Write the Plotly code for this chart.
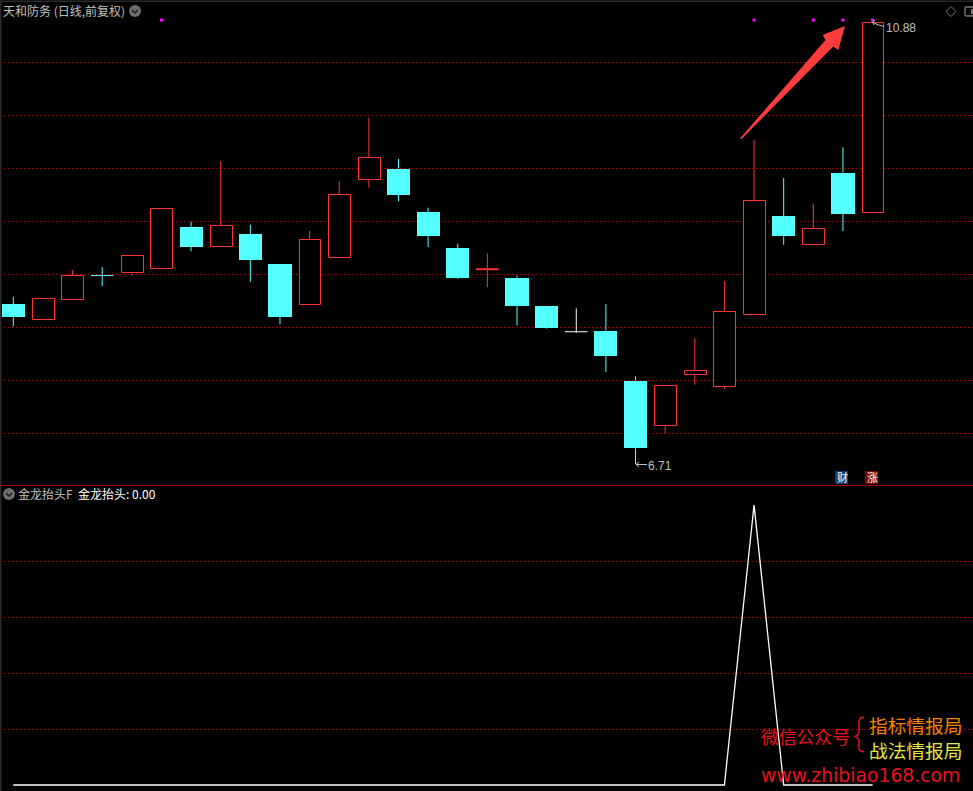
import plotly.graph_objects as go

W, H = 973, 791
SPLIT = 485

idx = list(range(30))
opens = [8.22,8.07,8.26,8.49,8.51,8.55,8.95,8.76,8.88,8.60,8.21,8.66,9.39,9.50,9.09,8.75,8.55,8.47,8.20,7.96,7.97,7.50,7.07,7.55,7.44,8.12,9.05,8.78,9.46,9.08]
highs = [8.29,8.27,8.54,8.57,8.67,9.12,9.00,9.57,8.97,8.60,8.91,9.38,9.98,9.59,9.13,8.79,8.70,8.49,8.20,8.18,8.22,7.54,7.45,7.90,8.44,9.77,9.41,9.17,9.70,10.88]
lows = [8.01,8.07,8.26,8.39,8.49,8.55,8.72,8.76,8.43,8.03,8.21,8.66,9.32,9.19,8.76,8.46,8.38,8.02,7.99,7.95,7.58,6.71,7.00,7.46,7.42,8.12,8.78,8.78,8.91,9.08]
closes = [8.10,8.27,8.49,8.49,8.67,9.12,8.76,8.96,8.64,8.10,8.83,9.25,9.60,9.25,8.86,8.47,8.55,8.20,8.00,7.96,7.73,6.86,7.45,7.59,8.15,9.19,8.86,8.93,9.07,10.87]
signal_idx = [5,25,27,28,29]
signal_val = [10.90,10.90,10.90,10.90,10.90]
indicator = [0]*25 + [100] + [0]*4
price_ticks = [10.5,10.0,9.5,9.0,8.5,8.0,7.5,7.0]
ind_ticks = [20,40,60,80]

RED = "#ff3333"
CYAN = "#54ffff"
GRID = "#b40000"
GREY = "#c0c0c0"
CJK = "Noto Sans CJK SC"
LATIN = "Liberation Sans"

x_range = [-13.3/29.63, (W-13.3)/29.63]
price_range = [10.5-(SPLIT-62.5)/106, 10.5+62.5/106]
ind_range = [-6/2.8, 100+20/2.8]


def px(x):
    return x/W


def py(y):
    return 1-y/H


fig = go.Figure()

up = [i for i in idx if closes[i] > opens[i]]
down = [i for i in idx if closes[i] < opens[i]]
flat = [i for i in idx if closes[i] == opens[i]]


def wicks(group):
    xs, ys = [], []
    for i in group:
        top, bot = max(opens[i], closes[i]), min(opens[i], closes[i])
        if highs[i] > top:
            xs += [i, i, None]
            ys += [highs[i], top, None]
        if lows[i] < bot:
            xs += [i, i, None]
            ys += [bot, lows[i], None]
    return xs, ys


for group, col in [(up, RED), (down, CYAN)]:
    xs, ys = wicks(group)
    fig.add_trace(go.Scatter(x=xs, y=ys, mode="lines", line=dict(color=col, width=1), hoverinfo="skip", showlegend=False, xaxis="x", yaxis="y"))

fig.add_trace(go.Bar(x=up, y=[closes[i]-opens[i] for i in up], base=[opens[i] for i in up], width=0.74, offset=-0.34,
                     marker=dict(color="#000000", line=dict(color=RED, width=1)), showlegend=False, xaxis="x", yaxis="y"))
fig.add_trace(go.Bar(x=down, y=[opens[i]-closes[i] for i in down], base=[closes[i] for i in down], width=0.78,
                     marker=dict(color=CYAN, line=dict(width=0)), showlegend=False, xaxis="x", yaxis="y"))

# open == close sessions
flat_style = {3: (CYAN, 1), 16: (RED, 2), 19: ("#ffffff", 1)}
for i in flat:
    c, w = flat_style[i]
    fig.add_trace(go.Scatter(x=[i, i], y=[highs[i], lows[i]], mode="lines", line=dict(color=c, width=1),
                             hoverinfo="skip", showlegend=False, xaxis="x", yaxis="y"))
    fig.add_trace(go.Scatter(x=[i-0.38, i+0.38], y=[opens[i], opens[i]], mode="lines", line=dict(color=c, width=w),
                             hoverinfo="skip", showlegend=False, xaxis="x", yaxis="y"))

fig.add_trace(go.Scatter(x=signal_idx, y=signal_val, mode="markers",
                         marker=dict(symbol="square", size=3, color="#ff00ff", line=dict(width=0)),
                         showlegend=False, xaxis="x", yaxis="y"))

fig.add_trace(go.Scatter(x=idx, y=indicator, mode="lines", line=dict(color="#ffffff", width=1.3),
                         showlegend=False, xaxis="x2", yaxis="y2"))

shapes = []


def line(x0, y0, x1, y1, color, width=1):
    shapes.append(dict(type="line", xref="paper", yref="paper", x0=px(x0), y0=py(y0), x1=px(x1), y1=py(y1),
                       line=dict(color=color, width=width), layer="above"))


def poly(points, fill=None, stroke=None, width=1):
    path = "M " + " L ".join(f"{px(a):.5f},{py(b):.5f}" for a, b in points) + (" Z" if fill else "")
    shapes.append(dict(type="path", xref="paper", yref="paper", path=path,
                       fillcolor=fill if fill else "rgba(0,0,0,0)",
                       line=dict(color=stroke if stroke else "rgba(0,0,0,0)", width=width), layer="above"))


def rect(x0, y0, x1, y1, fill=None, stroke=None):
    shapes.append(dict(type="rect", xref="paper", yref="paper", x0=px(x0), y0=py(y0), x1=px(x1), y1=py(y1),
                       fillcolor=fill if fill else "rgba(0,0,0,0)",
                       line=dict(color=stroke if stroke else "rgba(0,0,0,0)", width=1 if stroke else 0), layer="above"))


def chip(cx, cy):
    shapes.append(dict(type="circle", xref="paper", yref="paper", x0=px(cx-6), y0=py(cy-6), x1=px(cx+6), y1=py(cy+6),
                       fillcolor="#6e6e6e", line=dict(width=0), layer="above"))
    poly([(cx-3, cy-1), (cx, cy+2), (cx+3, cy-1)], stroke="#1a1a1a", width=1.4)


# frame
rect(0, 0, 1.5, H, fill="#2a2a2a")
rect(0, 0.5, W, 2, fill="#2a2a2a")
line(0, SPLIT+0.5, W, SPLIT+0.5, "#a80000")

chip(135, 11)
chip(9, 494)

# red arrow
poly([(740, 138.5), (825.5, 40), (822.7, 35), (845, 26), (838.3, 50), (833.3, 46.5), (741.5, 139)], fill="#ff3c3c")

# top-right icons
poly([(951, 6.5), (956, 11.5), (951, 16.5), (946, 11.5)], fill="#000000", stroke="#777777")
shapes.append(dict(type="path", xref="paper", yref="paper",
                   path=f"M {px(974):.5f},{py(7):.5f} L {px(966):.5f},{py(7):.5f} L {px(965):.5f},{py(8):.5f} L {px(965):.5f},{py(15):.5f} L {px(966):.5f},{py(16):.5f} L {px(974):.5f},{py(16):.5f}",
                   line=dict(color="#777777", width=1.4), layer="above"))
rect(971, 9, 973, 14, fill="#777777")

# high / low leaders
line(636, 464.5, 647, 464.5, GREY)
poly([(639, 462), (636, 464.5), (639, 467)], stroke=GREY)
poly([(873, 22), (877, 24.5), (884, 26.5)], stroke=GREY)
poly([(875, 20), (872.5, 22), (874, 25)], stroke=GREY)

# badges
rect(835, 471, 848, 484, fill="#0c3f73")
rect(865, 471, 878, 484, fill="#7a0808")

# brace
poly([(864, 717), (860.5, 718), (859, 721), (859, 732), (857.5, 735), (855, 736.5), (857.5, 738), (859, 741), (859, 749), (860.5, 751), (864, 752)], stroke="#e01020", width=1.5)

annotations = []


def label(x, y, text, color, size, font=CJK):
    annotations.append(dict(xref="paper", yref="paper", x=px(x), y=py(y), text=text, showarrow=False,
                            xanchor="left", yanchor="middle", align="left", borderpad=0,
                            font=dict(family=font, size=size, color=color)))


label(2, 10, "天和防务 (日线,前复权)", GREY, 12)
label(647, 466, "6.71", GREY, 12, LATIN)
label(885, 28, "10.88", GREY, 12, LATIN)
label(835.5, 477, "财", "#ffffff", 11)
label(865.5, 477, "涨", "#ffffff", 11)
label(17, 493, "金龙抬头F", GREY, 12)
label(77, 493, "金龙抬头: 0.00", "#ffffff", 12)
label(760, 735.5, "微信公众号", "#e8101f", 17.8)
label(868, 724.5, "指标情报局", "#f08400", 18.7)
label(868, 749.5, "战法情报局", "#e6e640", 18.7)
label(759.5, 775, "www.zhibiao168.com", "#e8101f", 18.8, "DejaVu Sans")

fig.update_layout(
    width=W, height=H, margin=dict(l=0, r=0, t=0, b=0, pad=0), autosize=False,
    paper_bgcolor="#000000", plot_bgcolor="#000000", showlegend=False, barmode="overlay", bargap=0,
    hovermode=False, shapes=shapes, annotations=annotations,
    xaxis=dict(domain=[0, 1], range=x_range, visible=False, fixedrange=True),
    xaxis2=dict(domain=[0, 1], range=x_range, visible=False, fixedrange=True, anchor="y2"),
    yaxis=dict(domain=[1-SPLIT/H, 1], range=price_range, tickvals=price_ticks, showticklabels=False, ticks="",
               showgrid=True, gridcolor=GRID, griddash="1px,3px", gridwidth=1, zeroline=False, showline=False, fixedrange=True),
    yaxis2=dict(domain=[0, 1-SPLIT/H], range=ind_range, tickvals=ind_ticks, showticklabels=False, ticks="", anchor="x2",
                showgrid=True, gridcolor=GRID, griddash="1px,3px", gridwidth=1, zeroline=False, showline=False, fixedrange=True),
)

fig.write_html("out.html", config={"displayModeBar": False},
               post_script="document.body.style.margin='0';document.body.style.background='#000';")
